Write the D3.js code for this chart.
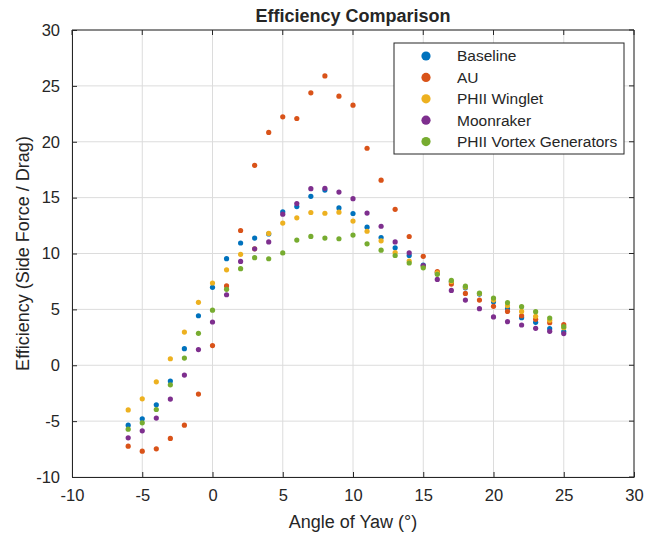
<!DOCTYPE html>
<html>
<head>
<meta charset="utf-8">
<script src="https://cdn.jsdelivr.net/npm/d3@7"></script>
<style>
  body { margin: 0; background: #fff; }
  text { font-family: "Liberation Sans", Arial, Helvetica, sans-serif; fill: #262626; }
  .grid line { stroke: #dcdcdc; stroke-width: 1; }
  .axis path, .axis line { stroke: #262626; }
</style>
</head>
<body>
<script>
var yaw = d3.range(-6, 26);   // -6 .. 25 deg

var baseline = [-5.36, -4.79, -3.54, -1.42, 1.48, 4.43, 6.97, 9.54, 10.94, 11.38, 11.75, 13.73, 14.2, 15.12, 15.68, 14.08,
    13.58, 12.36, 11.43, 10.51, 9.83, 8.96, 8.27, 7.47, 6.93, 6.37, 5.68, 5.06, 4.26, 3.84, 3.27, 3.01];
var au = [-7.24, -7.69, -7.48, -6.55, -5.36, -2.58, 1.76, 7.1, 12.06, 17.89, 20.83, 22.23, 22.08, 24.38, 25.89, 24.08,
    23.27, 19.42, 16.56, 13.95, 11.52, 9.75, 8.39, 7.26, 6.43, 5.83, 5.27, 4.82, 4.43, 4.11, 3.81, 3.63];
var winglet = [-4.0, -3.0, -1.48, 0.58, 2.97, 5.63, 7.36, 8.54, 9.93, 10.42, 11.8, 12.72, 13.19, 13.67, 13.6, 13.7,
    12.9, 11.99, 11.13, 10.09, 9.33, 8.84, 8.27, 7.5, 7.0, 6.42, 5.83, 5.33, 4.82, 4.38, 4.02, 3.36];
var moonraker = [-6.49, -5.87, -4.73, -3.03, -0.88, 1.4, 3.87, 6.31, 9.29, 10.42, 11.04, 13.52, 14.47, 15.8, 15.83, 15.5,
    14.91, 13.62, 12.44, 11.04, 10.06, 8.92, 7.68, 6.7, 5.83, 5.06, 4.32, 3.9, 3.6, 3.3, 3.04, 2.83];
var vortex = [-5.72, -5.15, -3.96, -1.75, 0.64, 2.86, 4.93, 6.79, 8.64, 9.63, 9.53, 10.05, 11.2, 11.53, 11.38, 11.32,
    11.65, 10.87, 10.3, 9.82, 9.15, 8.72, 8.14, 7.59, 7.08, 6.46, 6.01, 5.6, 5.24, 4.79, 4.23, 3.45];

var seriesNames = ["Baseline", "AU", "PHII Winglet", "Moonraker", "PHII Vortex Generators"];
var seriesValues = [baseline, au, winglet, moonraker, vortex];
var colors = ["#0072BD", "#D95319", "#EDB120", "#7E2F8E", "#77AC30"];

var xTicks = d3.range(-10, 31, 5);
var yTicks = d3.range(-10, 31, 5);

var margin = { top: 30, right: 14, bottom: 58, left: 72 };
var width = 648 - margin.left - margin.right;
var height = 535 - margin.top - margin.bottom;

var svg = d3.select("body")
    .append("svg")
    .attr("width", 648)
    .attr("height", 535);

var g = svg.append("g")
    .attr("transform", "translate(" + margin.left + "," + margin.top + ")");

var xscale = d3.scaleLinear().domain([-10, 30]).range([0, width]);
var yscale = d3.scaleLinear().domain([-10, 30]).range([height, 0]);

// grid
g.append("g").attr("class", "grid")
    .selectAll("line.v").data(xTicks).enter().append("line")
    .attr("x1", function (d) { return xscale(d); })
    .attr("x2", function (d) { return xscale(d); })
    .attr("y1", 0).attr("y2", height);
g.append("g").attr("class", "grid")
    .selectAll("line.h").data(yTicks).enter().append("line")
    .attr("y1", function (d) { return yscale(d); })
    .attr("y2", function (d) { return yscale(d); })
    .attr("x1", 0).attr("x2", width);

// axes (ticks pointing inward), plain hyphen for negatives like matlab
var fmt = function (d) { return String(d); };
var xAxis = d3.axisBottom(xscale).tickValues(xTicks).tickFormat(fmt).tickSizeInner(-5).tickSizeOuter(0).tickPadding(12);
var yAxis = d3.axisLeft(yscale).tickValues(yTicks).tickFormat(fmt).tickSizeInner(-5).tickSizeOuter(0).tickPadding(12);

g.append("g").attr("class", "x axis")
    .attr("transform", "translate(0," + height + ")")
    .call(xAxis)
    .selectAll("text").style("font-size", "16.5px").attr("fill", "#262626");
g.append("g").attr("class", "y axis")
    .call(yAxis)
    .selectAll("text").style("font-size", "16.5px").attr("fill", "#262626");

// box top/right
g.append("line").attr("x1", 0).attr("x2", width).attr("y1", 0).attr("y2", 0).attr("stroke", "#262626");
g.append("line").attr("x1", width).attr("x2", width).attr("y1", 0).attr("y2", height).attr("stroke", "#262626");
// top/right ticks
g.selectAll("line.tt").data(xTicks).enter().append("line")
    .attr("x1", function (d) { return xscale(d); }).attr("x2", function (d) { return xscale(d); })
    .attr("y1", 0).attr("y2", 5).attr("stroke", "#262626");
g.selectAll("line.rt").data(yTicks).enter().append("line")
    .attr("y1", function (d) { return yscale(d); }).attr("y2", function (d) { return yscale(d); })
    .attr("x1", width).attr("x2", width - 5).attr("stroke", "#262626");

// points
seriesValues.forEach(function (vals, k) {
    g.append("g").selectAll("circle")
        .data(vals).enter().append("circle")
        .attr("cx", function (d, i) { return xscale(yaw[i]); })
        .attr("cy", function (d) { return yscale(d); })
        .attr("r", 2.6)
        .attr("fill", colors[k]);
});

// title and labels
svg.append("text")
    .attr("x", margin.left + width / 2).attr("y", 22)
    .attr("text-anchor", "middle")
    .style("font-size", "18px").style("font-weight", "bold")
    .attr("fill", "#000")
    .text("Efficiency Comparison");

svg.append("text")
    .attr("x", margin.left + width / 2).attr("y", 528)
    .attr("text-anchor", "middle")
    .style("font-size", "18px")
    .text("Angle of Yaw (°)");

svg.append("text")
    .attr("transform", "translate(29," + (margin.top + height / 2) + ") rotate(-90)")
    .attr("text-anchor", "middle")
    .style("font-size", "18px")
    .text("Efficiency (Side Force / Drag)");

// legend
var lg = svg.append("g").attr("transform", "translate(394,43)");
lg.append("rect").attr("width", 230).attr("height", 111)
    .attr("fill", "#fff").attr("stroke", "#262626").attr("stroke-width", 1);
var item = lg.selectAll("g.legend").data(seriesNames).enter().append("g")
    .attr("class", "legend")
    .attr("transform", function (d, i) { return "translate(0," + (13 + i * 21.4) + ")"; });
item.append("circle").attr("cx", 32).attr("cy", 0).attr("r", 4.6)
    .attr("fill", function (d, i) { return colors[i]; });
item.append("text").attr("x", 63).attr("y", 0).attr("dy", "0.35em")
    .style("font-size", "15.5px").attr("fill", "#000")
    .text(function (d) { return d; });
</script>
</body>
</html>
